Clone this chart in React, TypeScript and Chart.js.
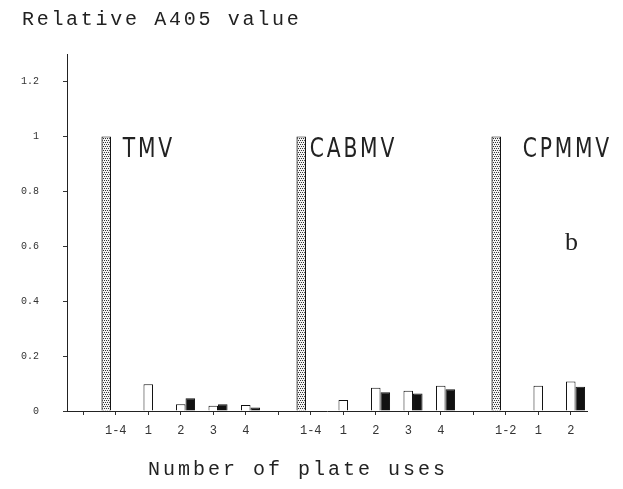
import React, { useEffect, useRef } from "react";
import { Chart, registerables } from "chart.js";

Chart.register(...registerables);

// Categories along the x axis (blank entries are spacer ticks between virus groups)
const categories = ["", "1-4", "1", "2", "3", "4", "", "1-4", "1", "2", "3", "4", "", "1-2", "1", "2"];
// Stippled bars: reference value for plate uses pooled
const pooledValues = [null, 1, null, null, null, null, null, 1, null, null, null, null, null, 1, null, null];
// Open (white) bars
const openValues = [null, null, 0.097, 0.025, 0.019, 0.022, null, null, 0.04, 0.085, 0.074, 0.092, null, null, 0.092, 0.107];
// Solid (black) bars
const solidValues = [null, null, null, 0.046, 0.025, 0.013, null, null, null, 0.068, 0.064, 0.079, null, null, null, 0.088];

const yTicks = [0, 0.2, 0.4, 0.6, 0.8, 1, 1.2];
const virusLabels = ["TMV", "CABMV", "CPMMV"];

const TEXT = "#222";

function makePattern(): CanvasPattern | string {
  const c = document.createElement("canvas");
  c.width = 4;
  c.height = 4;
  const g = c.getContext("2d");
  if (!g) return "#aaa";
  g.fillStyle = "#f4f4f4";
  g.fillRect(0, 0, 4, 4);
  g.fillStyle = "#333";
  g.fillRect(0, 0, 1, 1);
  g.fillRect(2, 0, 1, 1);
  g.fillRect(1, 2, 1, 1);
  g.fillRect(3, 2, 1, 1);
  const p = g.createPattern(c, "repeat");
  return p || "#aaa";
}

export default function App() {
  const ref = useRef<HTMLCanvasElement | null>(null);

  useEffect(() => {
    if (!ref.current) return;
    const textPlugin = {
      id: "texts",
      beforeDraw(chart: any) {
        const ctx = chart.ctx;
        ctx.save();
        ctx.fillStyle = "#fff";
        ctx.fillRect(0, 0, chart.width, chart.height);
        ctx.restore();
      },
      afterDraw(chart: any) {
        const ctx = chart.ctx as CanvasRenderingContext2D;
        const xs = chart.scales.x;
        const ys = chart.scales.y;
        ctx.save();
        ctx.fillStyle = TEXT;
        ctx.textBaseline = "alphabetic";
        ctx.textAlign = "left";
        // Title
        ctx.font = '20px "Liberation Mono"';
        (ctx as any).letterSpacing = "2.7px";
        ctx.fillText("Relative A405 value", 22, 25);
        // X axis title
        (ctx as any).letterSpacing = "3px";
        ctx.fillText("Number of plate uses", 148, 475);
        // Virus labels
        const idx = [1, 7, 13];
        const top = ys.getPixelForValue(1);
        const offsets = [7, -1, 17];
        idx.forEach((ci, i) => {
          const x = xs.getPixelForValue(ci) + offsets[i];
          ctx.save();
          ctx.translate(x, top + 21);
          ctx.scale(0.78, 1);
          ctx.font = '26px "DejaVu Sans"';
          (ctx as any).letterSpacing = "3.6px";
          ctx.fillText(virusLabels[i], 0, 0);
          ctx.restore();
        });
        // panel letter
        ctx.font = '26px "Liberation Serif"';
        (ctx as any).letterSpacing = "0px";
        ctx.fillText("b", 565, 250);
        ctx.restore();
      },
    };

    const pattern = makePattern();
    const chart = new Chart(ref.current, {
      type: "bar",
      data: {
        labels: categories,
        datasets: [
          {
            data: pooledValues as any,
            backgroundColor: pattern as any,
            borderColor: "#111",
            borderWidth: 1.2,
            borderSkipped: "bottom",
          },
          {
            data: openValues as any,
            backgroundColor: "#fff",
            borderColor: "#111",
            borderWidth: 1,
            borderSkipped: "bottom",
          },
          {
            data: solidValues as any,
            backgroundColor: "#111",
            borderColor: "#111",
            borderWidth: 1,
            borderSkipped: "bottom",
          },
        ],
      },
      options: {
        responsive: false,
        animation: false,
        devicePixelRatio: 1,
        layout: { padding: { top: 54, right: 36, left: 0, bottom: 0 } },
        datasets: { bar: { categoryPercentage: 0.88, barPercentage: 1 } },
        plugins: {
          legend: { display: false },
          tooltip: { enabled: false },
          title: { display: false },
        },
        scales: {
          x: {
            type: "category",
            offset: true,
            grid: {
              offset: false,
              drawOnChartArea: false,
              drawTicks: true,
              tickLength: 4,
              color: "#333",
            },
            border: { display: true, color: "#222", width: 1 },
            ticks: {
              autoSkip: false,
              maxRotation: 0,
              padding: 9,
              color: "#333",
              font: { family: "Liberation Mono", size: 12 },
            },
            afterFit(scale: any) {
              scale.height = 78;
            },
          },
          y: {
            min: 0,
            max: 1.3,
            ticks: {
              stepSize: 0.2,
              includeBounds: false,
              padding: 24,
              color: "#333",
              font: { family: "Liberation Mono", size: 10 },
              callback: (v: any) => {
                const n = Number(Number(v).toFixed(1));
                return yTicks.includes(n) ? String(n) : "";
              },
            },
            grid: {
              drawOnChartArea: false,
              drawTicks: true,
              tickLength: 4,
              color: "#333",
            },
            border: { display: true, color: "#222", width: 1 },
            afterFit(scale: any) {
              scale.width = 67;
            },
          },
        },
      },
      plugins: [textPlugin],
    } as any);
    return () => chart.destroy();
  }, []);

  return (
    <div style={{ position: "absolute", left: 0, top: 0, width: 623, height: 489 }}>
      <canvas ref={ref} width={623} height={489} style={{ width: 623, height: 489, display: "block" }} />
    </div>
  );
}
